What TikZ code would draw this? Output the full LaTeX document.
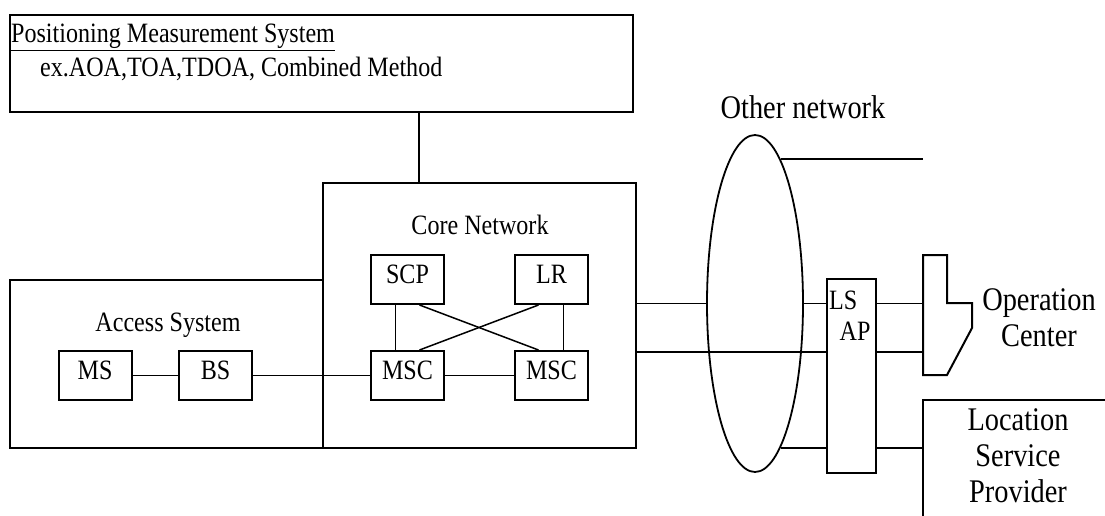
\documentclass[tikz,border=0pt]{standalone}
\usepackage{fontspec}
\setmainfont[FakeStretch=0.86]{Liberation Serif}
\usepackage{tikz}
\usetikzlibrary{shapes.geometric,calc}

\newcommand\txtS{\fontsize{28}{32}\selectfont}
\newcommand\txtL{\fontsize{33}{36}\selectfont}

\begin{document}
\begin{tikzpicture}[x=1pt, y=-1pt,
    frame/.style={draw, line width=2pt, inner sep=0pt},
    unit/.style={frame, minimum width=73pt, minimum height=49pt,
                 text height=19pt, text depth=12pt, font=\txtS},
    wire/.style={line width=1.5pt},
    lbl/.style={inner sep=0pt, font=\txtS},
    biglbl/.style={inner sep=0pt, font=\txtL, align=center}]
  \useasboundingbox (0,0) rectangle (1105,516);
  \clip (0,0) rectangle (1105,516);

  % outer systems
  \node[frame, minimum width=623pt, minimum height=97pt] (pms) at (321.5,63.5) {};
  \node[lbl, anchor=base west] (pmstitle) at (11,43) {\underline{Positioning Measurement System}};
  \node[lbl, anchor=base west] (pmsex) at (40,77) {ex.AOA,TOA,TDOA, Combined Method};

  \node[frame, minimum width=313pt, minimum height=168pt] (access) at (166.5,364) {};
  \node[lbl, anchor=base] (accesslbl) at (168,331) {Access System};
  \node[frame, minimum width=313pt, minimum height=265pt] (core) at (479.5,315.5) {};
  \node[lbl, anchor=base] (corelbl) at (480,234) {Core Network};

  % units
  \node[unit] (ms) at (95,375.5) {MS};
  \node[unit] (bs) at (215.5,375.5) {BS};
  \node[unit] (scp) at (407.5,279.5) {SCP};
  \node[unit] (lr) at (551.5,279.5) {LR};
  \node[unit] (msca) at (407.5,375.5) {MSC};
  \node[unit] (mscb) at (551.5,375.5) {MSC};

  % other network and right side
  \node[draw, ellipse, line width=1.8pt, inner sep=0pt,
        minimum width=96pt, minimum height=337pt] (other) at (755,303.5) {};
  \node[lbl, font=\txtL, anchor=base] (otherlbl) at (803,118) {Other network};

  \node[frame, minimum width=49pt, minimum height=194pt] (lsap) at (851.5,376) {};
  \node[lbl, anchor=base west] (lslbl) at (829,309) {LS};
  \node[lbl, anchor=base] (aplbl) at (855,340) {AP};

  \coordinate (oc) at (923,255);
  \draw[line width=2pt] (oc) -- (947,255) -- (947,303) -- (972,303)
        -- (972,328) -- (947,375) -- (923,375) -- cycle;
  \node[biglbl] (oclbl) at (1039,318) {Operation\\Center};

  \coordinate (lsp) at (923,400);
  \draw[line width=2pt] (1115,400) -| (923,526);
  \node[biglbl] (lsplbl) at (1018,456) {Location\\Service\\Provider};

  % connectors
  \coordinate (tap) at (419,0);
  \draw[wire] (pms.south -| tap) -- (core.north -| tap);
  \draw[wire] (ms) -- (bs);
  \draw[wire] (bs) -- (msca);
  \draw[wire] (msca) -- (mscb);
  \draw[wire] ([xshift=-12pt]scp.south) -- ([xshift=-12pt]msca.north);
  \draw[wire] ([xshift=12pt]lr.south) -- ([xshift=12pt]mscb.north);
  \draw[wire] ([xshift=12pt]scp.south) -- ([xshift=-13pt]mscb.north);
  \draw[wire] ([xshift=-13pt]lr.south) -- ([xshift=12pt]msca.north);

  \draw[wire] (core.east |- other.west) -- (other.west);
  \draw[wire] (other.east) -- (other.east -| lsap.west);
  \draw[wire] (core.east |- 0,352) -- (lsap.west |- 0,352);
  \draw[wire] (other.-80) -- (other.-80 -| lsap.west);
  \draw[wire] (other.80) -- (other.80 -| oc);
  \draw[wire] (lsap.east |- other.east) -- (oc |- other.east);
  \draw[wire] (lsap.east |- 0,352) -- (oc |- 0,352);
  \draw[wire] (lsap.east |- other.-80) -- (lsp |- other.-80);
\end{tikzpicture}
\end{document}
